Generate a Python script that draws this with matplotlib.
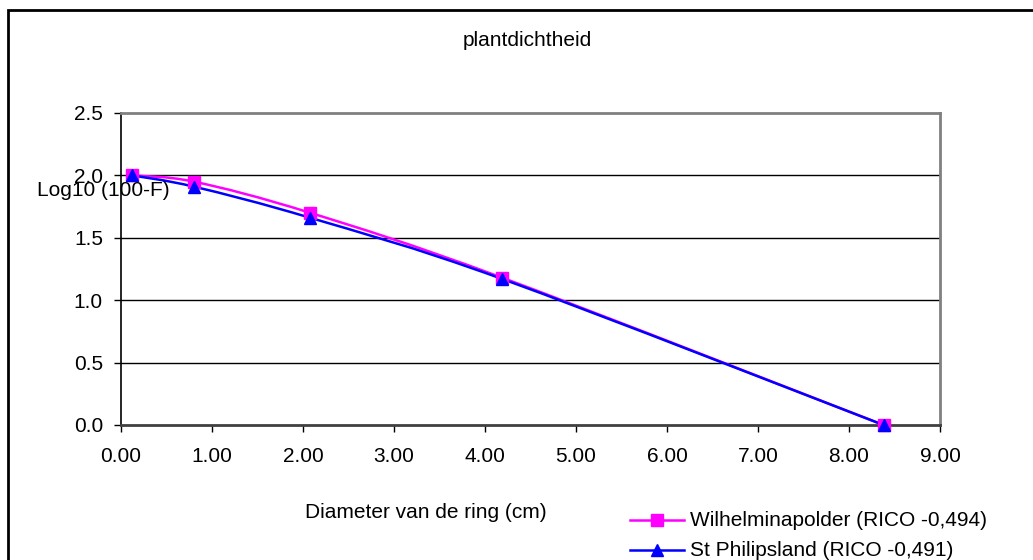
import matplotlib.pyplot as plt
from matplotlib.path import Path
from matplotlib.patches import PathPatch, Rectangle
from matplotlib.lines import Line2D
from numpy import arange, array

# diameter van de ring (cm) en log10(100-F) per locatie
diameter = [0.12, 0.80, 2.08, 4.19, 8.38]
wilhelminapolder = [2.00, 1.95, 1.70, 1.18, 0.00]
st_philipsland = [2.00, 1.91, 1.66, 1.17, 0.00]

labels = ["Wilhelminapolder (RICO -0,494)", "St Philipsland (RICO -0,491)"]
kleuren = ["#FF00FF", "#0000FF"]
markers = ["s", "^"]

plt.rcParams["font.family"] = ["Liberation Sans", "DejaVu Sans"]
FS = 15


def gladde_lijn(x, y):
    """Bezier-pad door de punten, zoals een 'vloeiende lijn' in Excel"""
    p = array(list(zip(x, y)), dtype=float)
    n = len(p)
    verts = [p[0]]
    codes = [Path.MOVETO]
    for i in range(n - 1):
        p0 = p[i - 1] if i > 0 else p[i]
        p3 = p[i + 2] if i + 2 < n else p[i + 1]
        c1 = p[i] + (p[i + 1] - p0) / 6
        c2 = p[i + 1] - (p3 - p[i]) / 6
        verts += [c1, c2, p[i + 1]]
        codes += [Path.CURVE4] * 3
    return Path(verts, codes)


W, H = 1033, 560
fig = plt.figure(figsize=(W / 100, H / 100), dpi=100)

# kader rond de grafiek
fig.add_artist(
    Rectangle((8 / W, -0.1), 1.2, 1 - 10 / H + 0.1, transform=fig.transFigure,
              fill=False, edgecolor="black", linewidth=2)
)

ax = fig.add_axes([121 / W, 1 - 425 / H, (940 - 121) / W, (425 - 113) / H])
ax.set_xlim(0, 9)
ax.set_ylim(0, 2.5)
ax.set_xticks(arange(0, 10, 1))
ax.set_xticklabels(["{0:0.2f}".format(v) for v in arange(0, 10, 1)])
ax.set_yticks(arange(0, 3.0, 0.5))
ax.set_yticklabels(["{0:0.1f}".format(v) for v in arange(0, 3.0, 0.5)])
ax.tick_params(axis="both", labelsize=FS, direction="out", length=5, width=1)
ax.tick_params(axis="y", pad=8)
ax.tick_params(axis="x", pad=11)

for y in [0.5, 1.0, 1.5, 2.0]:
    ax.axhline(y, color="black", linewidth=1, zorder=1)

ax.spines["left"].set_color("black")
ax.spines["left"].set_linewidth(1.2)
ax.spines["bottom"].set_color("#404040")
ax.spines["bottom"].set_linewidth(2)
ax.spines["top"].set_color("#808080")
ax.spines["top"].set_linewidth(2)
ax.spines["right"].set_color("#808080")
ax.spines["right"].set_linewidth(2)

for ys, kleur, m in zip([wilhelminapolder, st_philipsland], kleuren, markers):
    ax.add_patch(PathPatch(gladde_lijn(diameter, ys), fill=False,
                           edgecolor=kleur, linewidth=1.8, zorder=3))
    ax.plot(diameter, ys, linestyle="none", marker=m, markersize=9,
            color=kleur, zorder=4, clip_on=False)

fig.text(527 / W, 1 - 41 / H, "plantdichtheid", ha="center", va="center", fontsize=FS)
fig.text(37 / W, 1 - 191 / H, "Log10 (100-F)", ha="left", va="center", fontsize=FS)
fig.text(426 / W, 1 - 513 / H, "Diameter van de ring (cm)", ha="center",
         va="center", fontsize=FS)

# legenda
for i, (lab, kleur, m) in enumerate(zip(labels, kleuren, markers)):
    yl = 1 - (520 + 30 * i) / H
    fig.add_artist(Line2D([630 / W, 657 / W, 684 / W], [yl, yl, yl],
                          transform=fig.transFigure, color=kleur, linewidth=1.8,
                          marker=m, markersize=9, markevery=[1]))
    fig.text(690 / W, yl, lab, ha="left", va="center", fontsize=FS)

fig.savefig("out.png", dpi=100)
